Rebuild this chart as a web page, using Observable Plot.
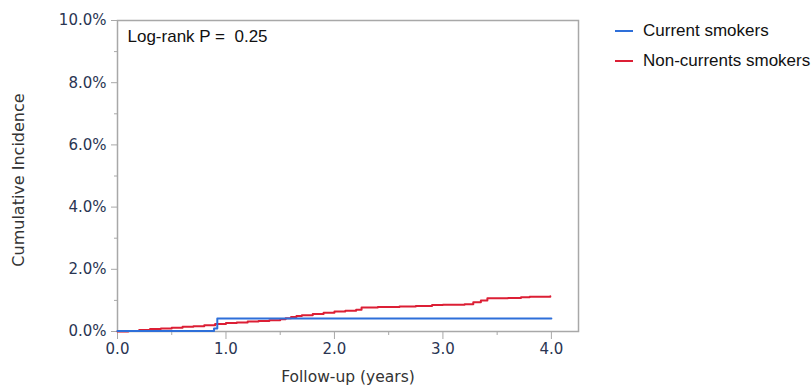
<!DOCTYPE html>
<html>
<head>
<meta charset="utf-8">
<script src="https://cdn.jsdelivr.net/npm/d3@7"></script>
<script src="https://cdn.jsdelivr.net/npm/@observablehq/plot@0.6"></script>
<style>
  html, body { margin: 0; padding: 0; background: #fff; }
  #wrap { position: relative; width: 812px; height: 385px; overflow: hidden; }
  #legend { position: absolute; left: 615px; top: 16px; font-family: "Liberation Sans", Arial, sans-serif; font-size: 17px; color: #111; }
  .row { display: flex; align-items: center; height: 30px; white-space: nowrap; }
  .sw { display: inline-block; width: 18px; height: 0; border-top: 2px solid; margin-right: 10px; }
</style>
</head>
<body>
<div id="wrap">
  <div id="chart"></div>
  <div id="legend"></div>
</div>
<script>
// ---- data ----
const seriesNames = ["Current smokers", "Non-currents smokers"];
const seriesColors = ["#2e6fd9", "#dc1f35"];

// Current smokers (years, cumulative incidence %)
const currentTimes = [0, 0.89, 0.92, 4.0];
const currentValues = [0.02, 0.10, 0.42, 0.42];

// Non-current smokers
const nonCurrentTimes = [0, 0.1, 0.2, 0.3, 0.4, 0.5, 0.6, 0.7, 0.8, 0.9, 1.0, 1.1, 1.2, 1.3, 1.4, 1.5, 1.55, 1.6, 1.65, 1.7, 1.8, 1.9, 2.0, 2.1, 2.2, 2.25, 2.4, 2.6, 2.75, 2.9, 3.0, 3.2, 3.28, 3.35, 3.41, 3.6, 3.72, 3.8, 3.99];
const nonCurrentValues = [0, 0.02, 0.05, 0.08, 0.10, 0.12, 0.15, 0.17, 0.20, 0.24, 0.27, 0.29, 0.32, 0.34, 0.36, 0.39, 0.43, 0.47, 0.50, 0.52, 0.56, 0.60, 0.64, 0.67, 0.70, 0.77, 0.79, 0.80, 0.82, 0.85, 0.86, 0.88, 0.94, 1.00, 1.07, 1.08, 1.10, 1.12, 1.13];

const xMajorTicks = [0, 1, 2, 3, 4];
const xMinorTicks = [0.5, 1.5, 2.5, 3.5];
const yMajorTicks = [0, 2, 4, 6, 8, 10];
const yMinorTicks = [1, 3, 5, 7, 9];

const annotation = "Log-rank P =  0.25";
const xLabel = "Follow-up (years)";
const yLabel = "Cumulative Incidence";

// ---- build rows ----
const current = currentTimes.map((t, i) => ({t, v: currentValues[i]}));
const nonCurrent = nonCurrentTimes.map((t, i) => ({t, v: nonCurrentValues[i]}));

const tickText = "#2a3552";
const axisGray = "#a8a8a8";

const chart = Plot.plot({
  width: 812,
  height: 385,
  marginLeft: 117,
  marginRight: 234,
  marginTop: 20,
  marginBottom: 54,
  x: {domain: [0, 4.25]},
  y: {domain: [0, 10]},
  style: {fontFamily: "'DejaVu Sans', Verdana, sans-serif", fontSize: "15px", background: "#fff"},
  marks: [
    Plot.frame({stroke: axisGray, strokeWidth: 1.5}),
    Plot.axisX({ticks: xMajorTicks, tickSize: 8, tickPadding: 4, tickFormat: d => d.toFixed(1), label: null, stroke: axisGray, fill: tickText, fontSize: 15}),
    Plot.axisX({ticks: xMinorTicks, tickSize: 4, text: null, label: null, stroke: axisGray}),
    Plot.axisY({ticks: yMajorTicks, tickSize: 6, tickPadding: 5, tickFormat: d => d.toFixed(1) + "%", label: null, stroke: axisGray, fill: tickText, fontSize: 15}),
    Plot.axisY({ticks: yMinorTicks, tickSize: 3, text: null, label: null, stroke: axisGray}),
    Plot.line(nonCurrent, {x: "t", y: "v", curve: "step-after", stroke: seriesColors[1], strokeWidth: 2}),
    Plot.line(current, {x: "t", y: "v", curve: "step-after", stroke: seriesColors[0], strokeWidth: 2}),
    Plot.text([annotation], {text: d => d, frameAnchor: "top-left", textAnchor: "start", lineAnchor: "middle", dx: 10, dy: 16, fontFamily: "'Liberation Sans', Arial, sans-serif", fontSize: 17, fill: "#111"}),
    Plot.text([yLabel], {text: d => d, frameAnchor: "left", textAnchor: "middle", lineAnchor: "middle", rotate: -90, dx: -99, dy: 4, fontSize: 16, fill: "#333"}),
    Plot.text([xLabel], {text: d => d, frameAnchor: "bottom", textAnchor: "middle", lineAnchor: "middle", dy: 46, fontSize: 15.5, fill: "#333"})
  ]
});
document.getElementById("chart").appendChild(chart);

const legend = document.getElementById("legend");
seriesNames.forEach((name, i) => {
  const row = document.createElement("div");
  row.className = "row";
  const sw = document.createElement("span");
  sw.className = "sw";
  sw.style.borderColor = seriesColors[i];
  row.appendChild(sw);
  row.appendChild(document.createTextNode(name));
  legend.appendChild(row);
});
</script>
</body>
</html>
